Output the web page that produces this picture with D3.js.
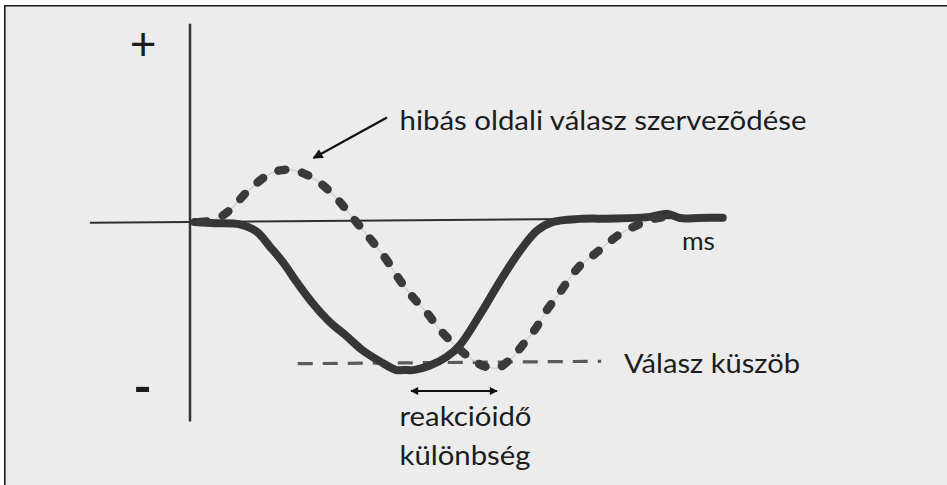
<!DOCTYPE html>
<html>
<head>
<meta charset="utf-8">
<script src="https://cdn.jsdelivr.net/npm/d3@7"></script>
<style>
  html, body { margin: 0; padding: 0; background: #ffffff; }
  svg { display: block; }
  text { font-family: Lato, "Open Sans", sans-serif; fill: #1c1c1c; }
</style>
</head>
<body>
<svg id="chart" width="947" height="485"></svg>
<script>
// Correct-side response (solid): time in ms, amplitude relative to the response threshold
const correctTime = [6, 33, 65, 87, 105, 122, 140, 161, 183, 205, 226, 249, 270, 279, 294, 314, 336, 353, 379, 406, 432, 454, 475, 510, 554, 602, 625, 641, 667, 697];
const correctAmp  = [0, -0.01, -0.02, -0.07, -0.18, -0.29, -0.43, -0.58, -0.71, -0.81, -0.91, -0.99, -1.05, -1.05, -1.05, -1.02, -0.96, -0.88, -0.67, -0.43, -0.22, -0.08, -0.02, 0, 0, 0.01, 0.03, 0, 0, 0];

// Wrong-side activation followed by the response (dashed)
const errorTime = [13, 30, 52, 75, 107, 133, 161, 188, 213, 233, 255, 272, 290, 310, 327, 347, 369, 386, 403, 421, 437, 453, 468, 482, 495, 510, 529, 547, 565, 584, 602, 622];
const errorAmp  = [0, 0.01, 0.08, 0.21, 0.34, 0.36, 0.30, 0.18, 0.02, -0.11, -0.26, -0.40, -0.53, -0.65, -0.77, -0.88, -0.98, -1.03, -1.04, -0.97, -0.87, -0.76, -0.63, -0.53, -0.43, -0.33, -0.25, -0.17, -0.10, -0.05, -0.01, 0.01];

// Response threshold and its extent on the time axis
const thresholdAmp = -1;
const thresholdSpan = [141, 538];

// Axis extents
const timeAxisSpan = [-131, 697];
const ampAxisSpan = [-1.4, 1.39];

// Labels
const axisSigns = ["+", "-"];
const timeLabel = "ms";
const thresholdLabel = "Válasz küszöb";
const errorLabel = "hibás oldali válasz szervezõdése";
const rtLabel = ["reakcióidő", "különbség"];

const svg = d3.select("#chart");

// page background and frame
svg.append("rect").attr("x", 5).attr("y", 6).attr("width", 942).attr("height", 479).attr("fill", "#ececec");
svg.append("line").attr("x1", 4.8).attr("x2", 947).attr("y1", 5.8).attr("y2", 5.8).attr("stroke", "#1a1a1a").attr("stroke-width", 1.6);
svg.append("line").attr("x1", 4.8).attr("x2", 4.8).attr("y1", 5).attr("y2", 485).attr("stroke", "#1a1a1a").attr("stroke-width", 1.6);

const x = d3.scaleLinear().domain([0, 700]).range([190, 725]);
const y = d3.scaleLinear().domain([-1.4, 1.4]).range([421.6, 22.4]);

// the plotting area is very slightly tilted
const plot = svg.append("g")
  .attr("transform", `translate(${x(0)},${y(0)}) skewY(-0.46) translate(${-x(0)},${-y(0)})`);

// horizontal (time) axis
plot.append("line")
  .attr("x1", x(timeAxisSpan[0])).attr("x2", x(timeAxisSpan[1]))
  .attr("y1", y(0)).attr("y2", y(0))
  .attr("stroke", "#2e2e2e").attr("stroke-width", 2);

// vertical (amplitude) axis
svg.append("line")
  .attr("x1", x(0)).attr("x2", x(0))
  .attr("y1", y(ampAxisSpan[1])).attr("y2", y(ampAxisSpan[0]))
  .attr("stroke", "#333").attr("stroke-width", 2.5);

// threshold
plot.append("line")
  .attr("x1", x(thresholdSpan[0])).attr("x2", x(thresholdSpan[1]))
  .attr("y1", y(thresholdAmp)).attr("y2", y(thresholdAmp))
  .attr("stroke", "#5a5a5a").attr("stroke-width", 3.2)
  .attr("stroke-dasharray", "15,10");

const line = d3.line()
  .x(d => x(d[0]))
  .y(d => y(d[1]))
  .curve(d3.curveCatmullRom.alpha(0.5));

const errorPts = errorTime.map((t, i) => [t, errorAmp[i]]);
const correctPts = correctTime.map((t, i) => [t, correctAmp[i]]);

// faint trace joining the dashes
plot.append("path").attr("d", line(errorPts))
  .attr("fill", "none").attr("stroke", "#cfcfcf").attr("stroke-width", 1.2);

// solid curve
plot.append("path").attr("d", line(correctPts))
  .attr("fill", "none").attr("stroke", "#363636").attr("stroke-width", 8)
  .attr("stroke-linejoin", "round").attr("stroke-linecap", "round");

// dashed curve
plot.append("path").attr("d", line(errorPts))
  .attr("fill", "none").attr("stroke", "#3a3a3a").attr("stroke-width", 8.5)
  .attr("stroke-linecap", "round").attr("stroke-dasharray", "7,17");

// arrow markers
const defs = svg.append("defs");
defs.append("marker").attr("id", "head")
  .attr("viewBox", "0 0 10 10").attr("refX", 9).attr("refY", 5)
  .attr("markerUnits", "userSpaceOnUse").attr("markerWidth", 12).attr("markerHeight", 10)
  .attr("orient", "auto-start-reverse")
  .append("path").attr("d", "M0,0 L10,5 L0,10 Z").attr("fill", "#111");
defs.append("marker").attr("id", "smallhead")
  .attr("viewBox", "0 0 10 10").attr("refX", 9).attr("refY", 5)
  .attr("markerUnits", "userSpaceOnUse").attr("markerWidth", 9).attr("markerHeight", 8)
  .attr("orient", "auto-start-reverse")
  .append("path").attr("d", "M0,0 L10,5 L0,10 Z").attr("fill", "#111");

// pointer to the wrong-side activation
svg.append("line")
  .attr("x1", 387).attr("y1", 117.5).attr("x2", 313.5).attr("y2", 158)
  .attr("stroke", "#111").attr("stroke-width", 2.2)
  .attr("marker-end", "url(#head)");

// reaction time difference arrow
svg.append("line")
  .attr("x1", 411).attr("x2", 497).attr("y1", 391).attr("y2", 391)
  .attr("stroke", "#111").attr("stroke-width", 2)
  .attr("marker-start", "url(#smallhead)").attr("marker-end", "url(#smallhead)");

// text set at a given size, squeezed to a given width
function label(str, lx, ly, size, width) {
  return svg.append("text").attr("x", lx).attr("y", ly)
    .attr("font-size", size)
    .attr("textLength", width).attr("lengthAdjust", "spacingAndGlyphs")
    .text(str);
}

label(errorLabel, 399.5, 130, 26.5, 407);
label(timeLabel, 682, 250, 25, 33);
label(thresholdLabel, 624, 373, 26.5, 176);
label(rtLabel[0], 399.5, 426, 26.5, 132);
label(rtLabel[1], 399.5, 465, 26.5, 131);

svg.append("text").attr("x", 143).attr("y", 42).attr("text-anchor", "middle")
  .attr("dominant-baseline", "central").attr("font-size", 46).text(axisSigns[0]);
svg.append("text").attr("x", 142.5).attr("y", 385.5).attr("text-anchor", "middle")
  .attr("dominant-baseline", "central").attr("font-size", 50).attr("font-weight", 700).text(axisSigns[1]);
</script>
</body>
</html>
